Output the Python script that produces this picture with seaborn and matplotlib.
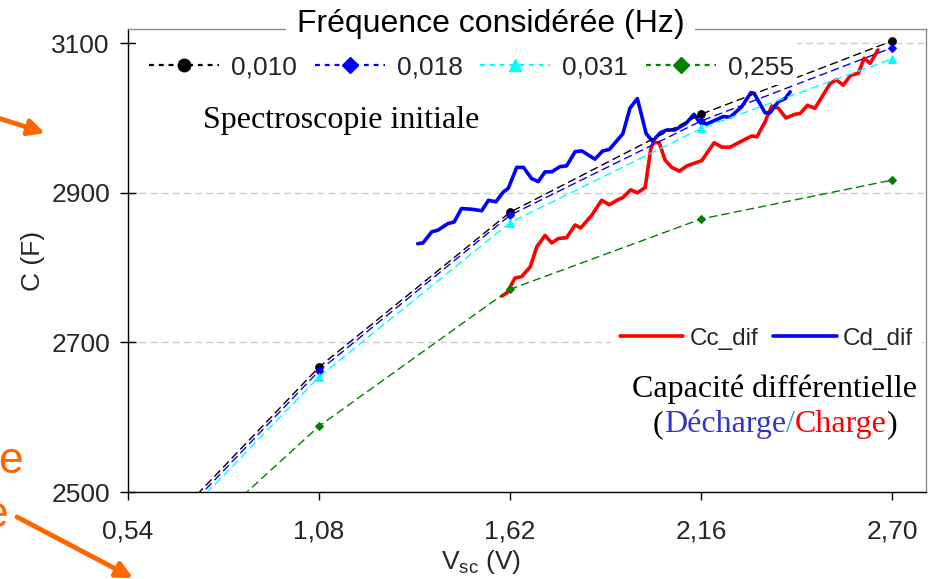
import numpy as np
import pandas as pd
import matplotlib
matplotlib.use('Agg')
import matplotlib.pyplot as plt
import seaborn as sns
from matplotlib.lines import Line2D
from matplotlib.patches import Rectangle

# ---------------- data ----------------
spec_v = [0.54, 1.08, 1.62, 2.16, 2.70]
c_010 = [2400, 2667, 2874, 3005, 3103]
c_018 = [2395, 2662, 2870, 2996, 3094]
c_031 = [2390, 2654, 2860, 2986, 3079]
c_255 = [2355, 2588, 2771, 2865, 2917]
freq_labels = ['0,010', '0,018', '0,031', '0,255']

cd_v = [1.359, 1.374, 1.399, 1.416, 1.445, 1.462, 1.483, 1.512, 1.540, 1.559,
        1.580, 1.601, 1.615, 1.639, 1.658, 1.681, 1.700, 1.719, 1.738, 1.761,
        1.780, 1.804, 1.823, 1.860, 1.882, 1.901, 1.939, 1.959, 1.980, 2.005,
        2.023, 2.044, 2.063, 2.086, 2.118, 2.140, 2.155, 2.176, 2.200, 2.223,
        2.242, 2.275, 2.301, 2.310, 2.341, 2.355, 2.379, 2.398, 2.412]
cd_c = [2832, 2833, 2848, 2850, 2859, 2861, 2879, 2878, 2876, 2890,
        2888, 2901, 2906, 2934, 2934, 2919, 2915, 2928, 2928, 2935,
        2936, 2955, 2956, 2945, 2956, 2958, 2979, 3013, 3026, 2979,
        2969, 2980, 2984, 2984, 2993, 3005, 2995, 2992, 2997, 3002,
        3001, 3015, 3034, 3033, 3007, 3007, 3022, 3026, 3035]

cc_v = [1.597, 1.611, 1.634, 1.653, 1.677, 1.696, 1.719, 1.738, 1.757, 1.780,
        1.804, 1.820, 1.851, 1.879, 1.901, 1.922, 1.940, 1.961, 1.980, 2.002,
        2.018, 2.025, 2.042, 2.058, 2.077, 2.099, 2.120, 2.138, 2.162, 2.197,
        2.219, 2.242, 2.303, 2.318, 2.341, 2.360, 2.379, 2.400, 2.426, 2.440,
        2.461, 2.482, 2.525, 2.542, 2.562, 2.583, 2.605, 2.621, 2.638, 2.660]
cc_c = [2762, 2766, 2786, 2788, 2801, 2828, 2843, 2833, 2839, 2840,
        2857, 2853, 2870, 2890, 2884, 2890, 2894, 2904, 2900, 2907,
        2959, 2967, 2967, 2944, 2934, 2929, 2936, 2939, 2943, 2967,
        2961, 2961, 2976, 2975, 2995, 3016, 3013, 3000, 3005, 3006,
        3017, 3013, 3046, 3051, 3044, 3057, 3060, 3080, 3073, 3091]

x_ticks = [0.54, 1.08, 1.62, 2.16, 2.70]
x_tick_labels = ['0,54', '1,08', '1,62', '2,16', '2,70']
y_ticks = [2500, 2700, 2900, 3100]
y_tick_labels = ['2500', '2700', '2900', '3100']

# ---------------- style ----------------
sns.set_style('white')
plt.rcParams['font.family'] = ['Liberation Sans', 'DejaVu Sans']
plt.rcParams['mathtext.fontset'] = 'custom'
plt.rcParams['mathtext.rm'] = 'Liberation Sans'
plt.rcParams['mathtext.it'] = 'Liberation Sans:italic'
SERIF = ['Liberation Serif', 'DejaVu Serif']
ORANGE = '#ff6600'
CYAN = '#00ffff'

W, H = 934, 579
fig = plt.figure(figsize=(W / 100, H / 100), dpi=100)
ax = fig.add_axes([128 / W, 1 - 492 / H, (926 - 128) / W, (492 - 29) / H])

# measured differential capacitance
sns.lineplot(x=cc_v, y=cc_c, color='#ff0000', linewidth=2.6, ax=ax,
             sort=False, estimator=None, legend=False, zorder=2)
sns.lineplot(x=cd_v, y=cd_c, color='#0000ff', linewidth=2.6, ax=ax,
             sort=False, estimator=None, legend=False, zorder=2)

# spectroscopy series
spec_series = [c_010, c_018, c_031, c_255]
spec_styles = [('black', 'o', 5.5), ('#0000ff', 'D', 4.5),
               (CYAN, '^', 6), ('#008000', 'D', 4)]
for vals, (col, mk, ms) in zip(spec_series, spec_styles):
    sns.lineplot(x=spec_v, y=vals, color=col, linewidth=1.0,
                 linestyle=(0, (6, 3)), marker=mk, markersize=ms,
                 markeredgecolor=col, markerfacecolor=col, ax=ax,
                 sort=False, estimator=None, legend=False, zorder=3)

ax.set_xlim(0.54, 2.796)
ax.set_ylim(2500, 3119)
ax.set_xticks(x_ticks)
ax.set_xticklabels(x_tick_labels)
ax.set_yticks(y_ticks)
ax.set_yticklabels(y_tick_labels)
ax.yaxis.grid(True, color='#cccccc', linestyle=(0, (5, 3)), linewidth=1)
ax.xaxis.grid(False)
ax.set_axisbelow(True)

for s in ['left', 'bottom']:
    ax.spines[s].set_color('black')
    ax.spines[s].set_linewidth(1)
for s in ['top', 'right']:
    ax.spines[s].set_color('#8c8c8c')
    ax.spines[s].set_linewidth(1)

ax.tick_params(axis='y', left=True, direction='inout', length=12, width=1,
               labelsize=19, pad=7, color='black')
ax.tick_params(axis='x', bottom=True, direction='out', length=6, width=1,
               labelsize=19, pad=14, color='black')

ax.set_ylabel('C (F)', fontsize=19)
ax.yaxis.set_label_coords(-0.104, 0.5)
ax.set_xlabel(r'V$_{\mathrm{sc}}$ (V)', fontsize=19)
ax.xaxis.set_label_coords(0.442, -0.122)

# white backing of the frequency legend (hides the top grid line there)
ax.add_patch(Rectangle((136 / W, 1 - 85 / H), (797 - 136) / W, (85 - 34) / H,
                       transform=fig.transFigure, facecolor='white', edgecolor='none',
                       zorder=4, clip_on=False))

# legend 1 (frequencies)
h1 = [Line2D([], [], color='black', lw=1.6, linestyle=(0, (2.2, 2.2)), marker='o', markersize=9),
      Line2D([], [], color='#0000ff', lw=1.6, linestyle=(0, (2.2, 2.2)), marker='D', markersize=8),
      Line2D([], [], color=CYAN, lw=1.6, linestyle=(0, (2.2, 2.2)), marker='^', markersize=9),
      Line2D([], [], color='#008000', lw=1.6, linestyle=(0, (2.2, 2.2)), marker='D', markersize=8)]
leg1 = ax.legend(h1, freq_labels, loc='center', bbox_to_anchor=(471.5 / W, 1 - 67 / H),
                 bbox_transform=fig.transFigure, ncol=4, frameon=False, fontsize=19,
                 handlelength=2.65, handletextpad=0.45, columnspacing=0.68,
                 borderpad=0.2, borderaxespad=0)
leg1.set_zorder(5)
ax.add_artist(leg1)

# legend 2 (measured)
h2 = [Line2D([], [], color='#ff0000', lw=2.6), Line2D([], [], color='#0000ff', lw=2.6)]
leg2 = ax.legend(h2, ['Cc_dif', 'Cd_dif'], loc='center', bbox_to_anchor=(766.5 / W, 1 - 339 / H),
                 bbox_transform=fig.transFigure, ncol=2, frameon=True, fontsize=17.5,
                 handlelength=2.6, handletextpad=0.25, columnspacing=0.62,
                 borderpad=0.4, borderaxespad=0, fancybox=False)
leg2.get_frame().set_facecolor('white')
leg2.get_frame().set_edgecolor('none')
leg2.get_frame().set_alpha(1)

# title of frequency legend, over the frame
fig.text(490.5 / W, 1 - 32.3 / H, 'Fréquence considérée (Hz)', ha='center', va='baseline',
         fontsize=23, color='black',
         bbox=dict(facecolor='white', edgecolor='none', pad=7.5))

# annotations
fig.text(203 / W, 1 - 128 / H, 'Spectroscopie initiale', family=SERIF, fontsize=23,
         ha='left', va='baseline', color='black')
fig.text(774 / W, 1 - 397 / H, 'Capacité différentielle', family=SERIF, fontsize=23,
         ha='center', va='baseline', color='black')

t = fig.text(653 / W, 1 - 432 / H, '(', family=SERIF, fontsize=23, ha='left',
             va='baseline', color='black')
for s, col in [('Décharge', '#3333cc'), ('/', '#3399ff'), ('Charge', '#ff0000'), (')', 'black')]:
    t = ax.annotate(s, xy=(1, 0), xycoords=t, ha='left', va='bottom', family=SERIF,
                    fontsize=23, color=col, annotation_clip=False)

# orange elements from the surrounding slide
fig.text(23 / W, 1 - 473 / H, 'e', ha='right', va='baseline', fontsize=32, color=ORANGE)
fig.text(8 / W, 1 - 527 / H, 'e', ha='right', va='baseline', fontsize=32, color=ORANGE)
ax.annotate('', xy=(45, H - 133), xytext=(-5, H - 117), xycoords='figure pixels',
            textcoords='figure pixels', annotation_clip=False,
            arrowprops=dict(arrowstyle='-|>', color=ORANGE, lw=3.5, mutation_scale=24,
                            shrinkA=0, shrinkB=0))
ax.annotate('', xy=(133, H - 578), xytext=(17, H - 517), xycoords='figure pixels',
            textcoords='figure pixels', annotation_clip=False,
            arrowprops=dict(arrowstyle='-|>', color=ORANGE, lw=3.5, mutation_scale=24,
                            shrinkA=0, shrinkB=0))

fig.savefig('out.png', dpi=100)
